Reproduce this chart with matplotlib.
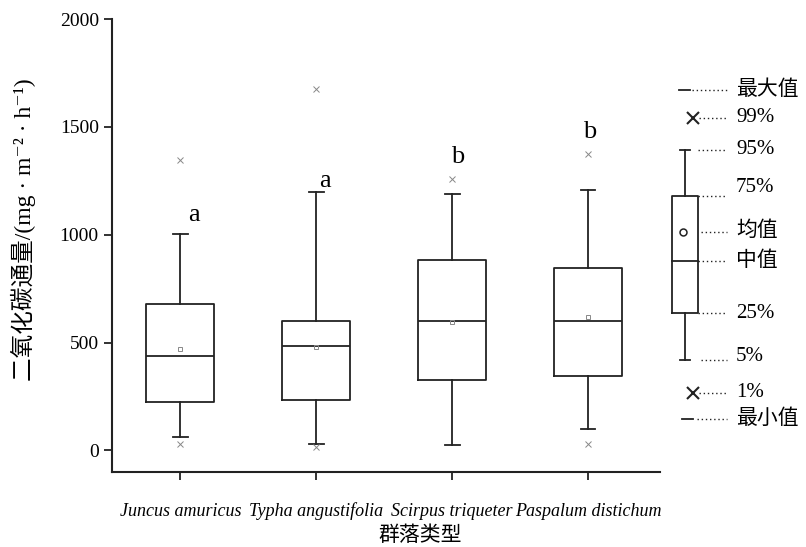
import matplotlib
matplotlib.use("Agg")
import matplotlib.pyplot as plt

plt.rcParams['font.family'] = ['Liberation Serif', 'Noto Sans CJK SC', 'DejaVu Serif']

# values (mg m-2 h-1)
species = ['Juncus amuricus', 'Typha angustifolia', 'Scirpus triqueter', 'Paspalum distichum']
q1 = [224, 233, 325, 344]
med = [437, 483, 602, 602]
q3 = [679, 599, 883, 844]
whislo = [62, 28, 25, 100]
whishi = [1003, 1196, 1190, 1205]
means = [471, 478, 596, 617]
fliers = [[1347, 31], [1676, 15], [1259], [1376, 32]]
letters = ['a', 'a', 'b', 'b']
letter_y = [1062, 1221, 1332, 1448]
letter_dx = [0.10, 0.066, 0.044, 0.015]

yticks = [0, 500, 1000, 1500, 2000]

# schematic key on the right: (value level, label)
key_labels = ['最大值', '99%', '95%', '75%', '均值', '中值', '25%', '5%', '1%', '最小值']
key_levels = [1671, 1543, 1394, 1181, 1011, 880, 639, 421, 264, 144]
key_text_y = [1671, 1543, 1394, 1218, 1014, 875, 634, 435, 268, 144]

W, H = 806, 547
fig = plt.figure(figsize=(W / 100, H / 100), dpi=100)
ax = fig.add_axes([112 / W, (H - 472) / H, (660 - 112) / W, (472 - 19) / H])

stats = []
for i in range(len(species)):
  stats.append(dict(med=med[i], q1=q1[i], q3=q3[i], whislo=whislo[i], whishi=whishi[i],
                    mean=means[i], fliers=fliers[i], label=species[i]))

lc = '#222222'
ax.bxp(stats, positions=[1, 2, 3, 4], widths=0.5, capwidths=0.11, showmeans=True,
       boxprops=dict(color=lc, linewidth=1.3),
       whiskerprops=dict(color=lc, linewidth=1.3),
       capprops=dict(color=lc, linewidth=1.3),
       medianprops=dict(color=lc, linewidth=1.3),
       meanprops=dict(marker='s', markersize=3.5, markerfacecolor='none',
                      markeredgecolor='#888888', markeredgewidth=0.7),
       flierprops=dict(marker='x', markersize=4, markeredgecolor='#888888',
                       markeredgewidth=0.7))

for i in range(len(species)):
  ax.text(i + 1 + letter_dx[i], letter_y[i], letters[i], fontsize=19,
          ha='center', va='baseline', family='Liberation Serif')

ax.set_xlim(0.497, 4.53)
ax.set_ylim(-100, 2000)
ax.set_yticks(yticks)
ax.set_yticklabels([str(t) for t in yticks], fontsize=14)
ax.set_xticks([1, 2, 3, 4])
ax.set_xticklabels(species, fontsize=13, style='italic')
ax.tick_params(axis='both', direction='out', length=6, width=1.3, color=lc)
ax.tick_params(axis='x', pad=16)
for s in ['top', 'right']:
  ax.spines[s].set_visible(False)
for s in ['left', 'bottom']:
  ax.spines[s].set_linewidth(1.5)
  ax.spines[s].set_color(lc)

ax.set_ylabel('二氧化碳通量/(mg · m⁻² · h⁻¹)', fontsize=17)
ax.yaxis.set_label_coords(-0.139, 0.534)
ax.set_xlabel('群落类型', fontsize=15)
ax.xaxis.set_label_coords((420 - 112) / (660 - 112), -0.12)

# key panel, same vertical scale as the chart
kx = fig.add_axes([660 / W, (H - 472) / H, (W - 660) / W, (472 - 19) / H])
kx.set_xlim(0, 1)
kx.set_ylim(-100, 2000)
kx.axis('off')

bl, br, bc = 0.082, 0.26, 0.171
lv = dict(zip(key_labels, key_levels))
kx.plot([bl, br, br, bl, bl], [lv['25%'], lv['25%'], lv['75%'], lv['75%'], lv['25%']],
        color=lc, linewidth=1.3)
kx.plot([bl, br], [lv['中值']] * 2, color=lc, linewidth=1.3)
kx.plot([bc, bc], [lv['75%'], lv['95%']], color=lc, linewidth=1.3)
kx.plot([bc, bc], [lv['5%'], lv['25%']], color=lc, linewidth=1.3)
kx.plot([0.137, 0.205], [lv['95%']] * 2, color=lc, linewidth=1.3)
kx.plot([0.137, 0.205], [lv['5%']] * 2, color=lc, linewidth=1.3)
kx.plot([0.158], [lv['均值']], marker='o', markersize=5, markerfacecolor='none',
        markeredgecolor=lc, markeredgewidth=1.1)
kx.plot([0.226, 0.226], [lv['99%'], lv['1%']], linestyle='none', marker='x',
        markersize=9, markeredgecolor=lc, markeredgewidth=1.5)
kx.plot([0.13, 0.205], [lv['最大值']] * 2, color=lc, linewidth=1.3)
kx.plot([0.15, 0.226], [lv['最小值']] * 2, color=lc, linewidth=1.3)

dot_start = {'最大值': 0.22, '99%': 0.27, '95%': 0.26, '75%': 0.26, '均值': 0.28,
             '中值': 0.26, '25%': 0.26, '5%': 0.28, '1%': 0.27, '最小值': 0.25}
for lab, lvl, ty in zip(key_labels, key_levels, key_text_y):
  kx.plot([dot_start[lab], 0.46], [lvl, lvl], color=lc, linewidth=1.0,
          linestyle=(0, (1, 2)))
  kx.text(0.52, ty, lab, fontsize=15, ha='left', va='center')

fig.savefig('out.png', dpi=100)
